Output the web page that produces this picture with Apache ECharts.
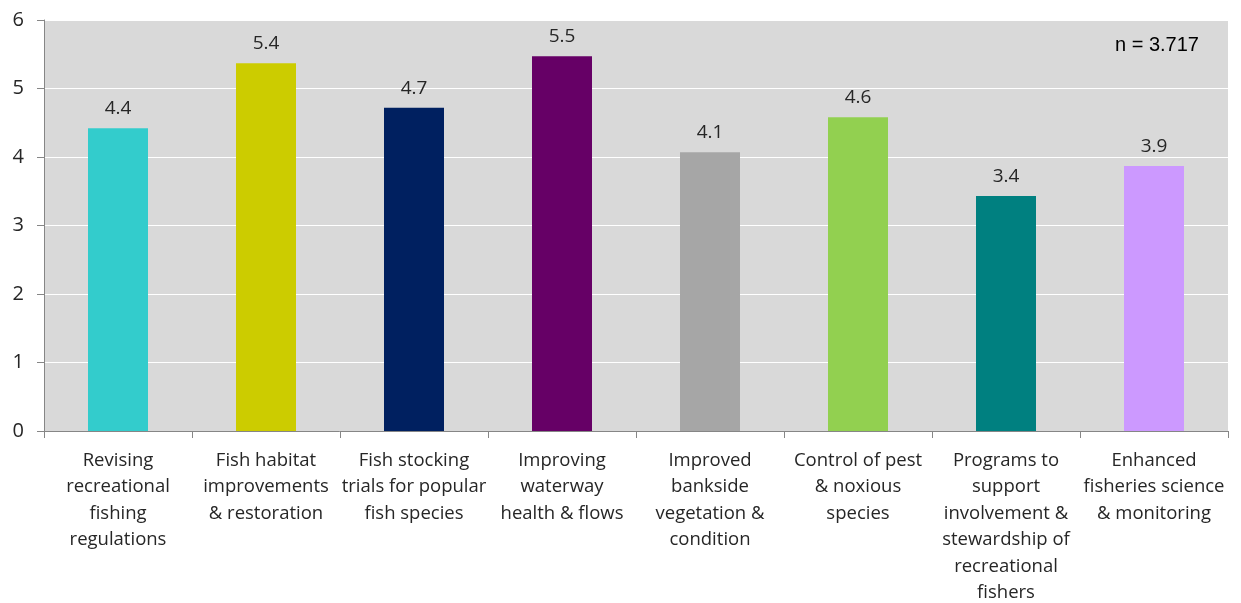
<!DOCTYPE html>
<html>
<head>
<meta charset="utf-8">
<script src="https://cdn.jsdelivr.net/npm/echarts@6/dist/echarts.min.js"></script>
<style>
  html, body { margin: 0; padding: 0; background: #fff; }
  #chart { width: 1241px; height: 603px; }
</style>
</head>
<body>
<div id="chart"></div>
<script>
// Mean priority score for each investment area
const categories = [
  'Revising\nrecreational\nfishing\nregulations',
  'Fish habitat\nimprovements\n& restoration',
  'Fish stocking\ntrials for popular\nfish species',
  'Improving\nwaterway\nhealth & flows',
  'Improved\nbankside\nvegetation &\ncondition',
  'Control of pest\n& noxious\nspecies',
  'Programs to\nsupport\ninvolvement &\nstewardship of\nrecreational\nfishers',
  'Enhanced\nfisheries science\n& monitoring'
];
const scores = [4.42, 5.37, 4.72, 5.47, 4.07, 4.58, 3.43, 3.87];
const barColors = ['#33cccc', '#cccc00', '#002060', '#660066', '#a6a6a6', '#92d050', '#008080', '#cc99ff'];
const yTicks = [0, 1, 2, 3, 4, 5, 6];
const sampleNote = 'n = 3.717';

const font = '"Open Sans", "Liberation Sans", sans-serif';
const chart = echarts.init(document.getElementById('chart'));

chart.setOption({
  animation: false,
  grid: {
    left: 44, right: 13, top: 20, bottom: 172,
    outerBoundsMode: 'none',
    show: true, backgroundColor: '#d9d9d9', borderWidth: 0
  },
  xAxis: {
    type: 'category',
    data: categories,
    axisLine: { lineStyle: { color: '#868686', width: 1 } },
    axisTick: { show: true, length: 7, alignWithLabel: false, lineStyle: { color: '#868686' } },
    axisLabel: {
      interval: 0, margin: 16, color: '#262626',
      fontFamily: font, fontSize: 18.5, lineHeight: 26.5, align: 'center'
    }
  },
  yAxis: {
    type: 'value',
    min: yTicks[0], max: yTicks[yTicks.length - 1], interval: 1,
    axisLine: { show: true, lineStyle: { color: '#868686', width: 1 } },
    axisTick: { show: true, length: 7, lineStyle: { color: '#868686' } },
    splitLine: { lineStyle: { color: '#ffffff', width: 1 } },
    axisLabel: { margin: 20, color: '#262626', fontFamily: font, fontSize: 20 }
  },
  series: [{
    type: 'bar',
    barWidth: 60,
    data: scores.map((v, i) => ({ value: v, itemStyle: { color: barColors[i] } })),
    label: {
      show: true, position: 'top', distance: 10,
      color: '#262626', fontFamily: font, fontSize: 19,
      formatter: p => p.value.toFixed(1)
    }
  }],
  graphic: [{
    type: 'text',
    left: 1115, top: 35,
    style: { text: sampleNote, fill: '#000', font: '20px "Liberation Sans", Arial, sans-serif' }
  }]
});
</script>
</body>
</html>
